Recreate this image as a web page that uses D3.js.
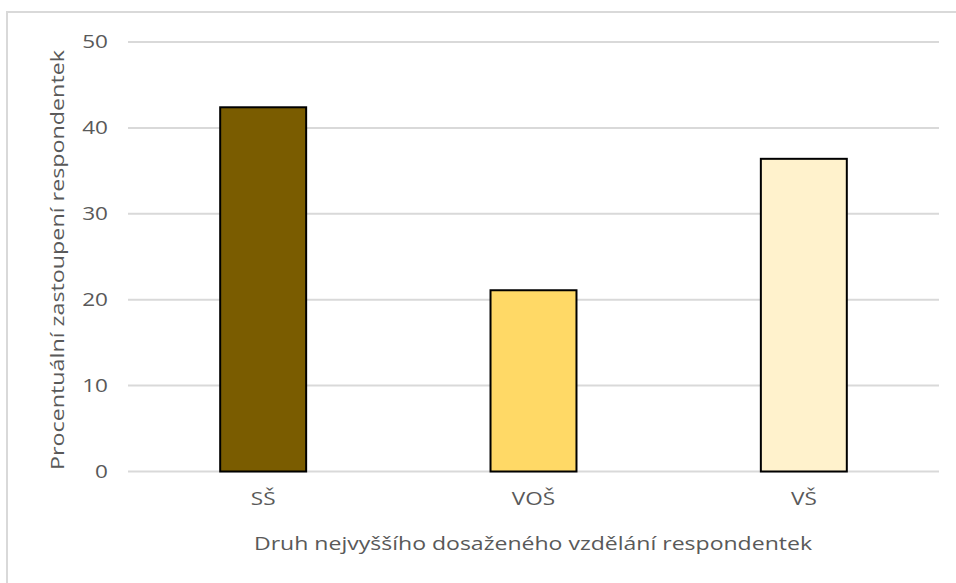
<!DOCTYPE html>
<html>
<head>
<meta charset="utf-8">
<script src="https://cdn.jsdelivr.net/npm/d3@7"></script>
<style>
  html, body { margin: 0; padding: 0; background: #fff; }
  svg { display: block; font-family: "Open Sans", "Noto Sans", sans-serif; }
</style>
</head>
<body>
<svg id="chart" width="956" height="583"></svg>
<script>
// Education level categories and share of respondents (%)
const categories = ["SŠ", "VOŠ", "VŠ"];
const values = [42.4, 21.1, 36.4];
const barColors = ["#7a5c00", "#ffd966", "#fff2cc"];
const yTicks = [0, 10, 20, 30, 40, 50];
const xTitle = "Druh nejvyššího dosaženého vzdělání respondentek";
const yTitle = "Procentuální zastoupení respondentek";

const svg = d3.select("#chart");
const W = 956, H = 583;
const plot = { left: 128, right: 939, top: 42, bottom: 471.5 };
const textColor = "#595959";
const stretch = 1.22; // wide text rendering

// outer chart frame
svg.append("rect")
  .attr("x", 7).attr("y", 12)
  .attr("width", W + 10).attr("height", H + 10)
  .attr("fill", "#fff")
  .attr("stroke", "#d9d9d9").attr("stroke-width", 2);

const x = d3.scaleBand()
  .domain(categories)
  .range([plot.left, plot.right])
  .paddingInner(0.682)
  .paddingOuter(0.341);

const y = d3.scaleLinear()
  .domain([0, 50])
  .range([plot.bottom, plot.top]);

// horizontal gridlines
svg.append("g")
  .selectAll("line")
  .data(yTicks)
  .join("line")
  .attr("x1", plot.left).attr("x2", plot.right)
  .attr("y1", d => y(d)).attr("y2", d => y(d))
  .attr("stroke", "#d9d9d9").attr("stroke-width", 2);

// y axis tick labels
const yAxis = d3.axisLeft(y).tickValues(yTicks).tickSize(0).tickPadding(0);
const gy = svg.append("g")
  .attr("transform", `translate(${plot.left - 20},0)`)
  .call(yAxis);
gy.select(".domain").remove();
gy.selectAll("text")
  .attr("fill", textColor)
  .attr("transform", `scale(${stretch},1)`)
  .style("font-size", "18.5px")
  .style("font-family", "'Open Sans', sans-serif");

// bars
svg.append("g")
  .selectAll("rect")
  .data(categories.map((c, i) => ({ c, v: values[i], color: barColors[i] })))
  .join("rect")
  .attr("x", d => x(d.c))
  .attr("y", d => y(d.v))
  .attr("width", x.bandwidth())
  .attr("height", d => y(0) - y(d.v))
  .attr("fill", d => d.color)
  .attr("stroke", "#000")
  .attr("stroke-width", 2);

// x axis category labels
const xAxis = d3.axisBottom(x).tickSize(0).tickPadding(0);
const gx = svg.append("g")
  .attr("transform", `translate(0,${plot.bottom + 33})`)
  .call(xAxis);
gx.select(".domain").remove();
gx.selectAll("text")
  .attr("fill", textColor)
  .attr("dy", 0)
  .attr("transform", `scale(${stretch},1)`)
  .style("font-size", "18.5px")
  .style("font-family", "'Open Sans', sans-serif");

// axis titles
svg.append("text")
  .attr("x", 533)
  .attr("y", 550)
  .attr("text-anchor", "middle")
  .attr("fill", textColor)
  .attr("textLength", 558)
  .attr("lengthAdjust", "spacingAndGlyphs")
  .style("font-size", "18.5px")
  .text(xTitle);

svg.append("text")
  .attr("transform", `translate(64,260) rotate(-90)`)
  .attr("text-anchor", "middle")
  .attr("fill", textColor)
  .attr("textLength", 420)
  .attr("lengthAdjust", "spacingAndGlyphs")
  .style("font-size", "18.5px")
  .text(yTitle);
</script>
</body>
</html>
